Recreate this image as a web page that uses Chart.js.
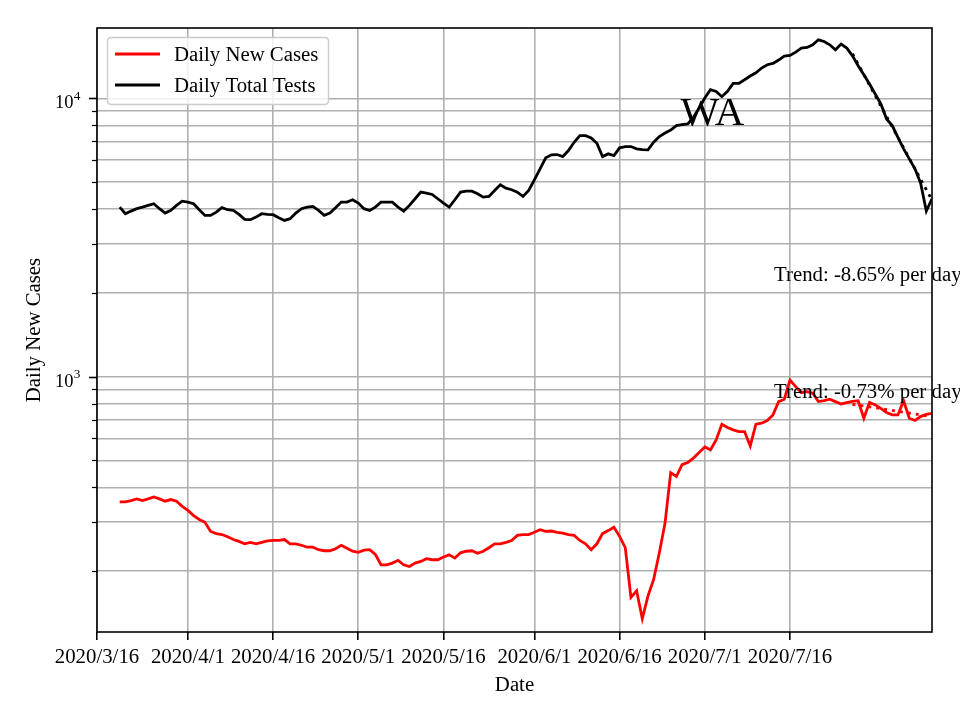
<!DOCTYPE html>
<html>
<head>
<meta charset="utf-8">
<style>
  html, body { margin: 0; padding: 0; background: #ffffff; }
  #wrap { width: 960px; height: 720px; }
</style>
<script src="https://cdn.jsdelivr.net/npm/chart.js@4.4.1/dist/chart.umd.min.js"></script>
</head>
<body>
<div id="wrap"><canvas id="c" width="960" height="720"></canvas></div>
<script>
// ---------------- data ----------------
const axisStartDate = '2020/3/16';
const axisEndDate = '2020/8/10';
const seriesStartDate = '2020/3/20';

const dailyNewCases = [
  355, 355, 359, 364, 359, 364, 370, 364, 357, 362, 357, 342, 331, 317, 307, 300,
  278, 273, 271, 266, 260, 256, 251, 254, 251, 254, 257, 258, 258, 260, 251, 251,
  248, 244, 244, 239, 237, 237, 241, 248, 242, 236, 234, 238, 239, 230, 211, 211,
  214, 219, 211, 208, 214, 217, 222, 220, 220, 225, 229, 223, 233, 236, 237, 232,
  236, 243, 251, 251, 254, 258, 269, 271, 271, 276, 282, 278, 279, 276, 274, 271,
  269, 258, 251, 239, 251, 273, 280, 288, 267, 243, 161, 170, 135, 163, 187, 233,
  298, 452, 438, 483, 492, 510, 534, 559, 546, 593, 675, 657, 644, 635, 635, 564,
  675, 681, 696, 729, 814, 830, 973, 921, 876, 884, 872, 814, 820, 830, 814, 798,
  807, 816, 820, 709, 809, 792, 770, 743, 729, 729, 820, 709, 696, 719, 733, 739
];

const dailyTotalTests = [
  4068, 3852, 3936, 4015, 4068, 4125, 4183, 4015, 3871, 3959, 4125, 4274, 4239, 4183, 3981, 3798,
  3798, 3903, 4048, 3981, 3959, 3830, 3674, 3666, 3745, 3852, 3830, 3820, 3726, 3644, 3696, 3871,
  4015, 4068, 4091, 3959, 3798, 3871, 4048, 4239, 4239, 4323, 4204, 4015, 3959, 4068, 4239, 4239,
  4239, 4068, 3936, 4125, 4359, 4604, 4566, 4516, 4359, 4204, 4068, 4323, 4604, 4642, 4642, 4543,
  4418, 4443, 4669, 4893, 4758, 4695, 4604, 4443, 4669, 5099, 5585, 6114, 6267, 6283, 6180, 6494,
  6955, 7350, 7350, 7213, 6898, 6180, 6319, 6231, 6641, 6713, 6713, 6586, 6548, 6534, 6955, 7290,
  7504, 7691, 7983, 8048, 8094, 8548, 9239, 10030, 10745, 10596, 10141, 10596, 11320, 11320, 11668, 12031,
  12363, 12853, 13207, 13348, 13728, 14191, 14260, 14666, 15157, 15234, 15577, 16233, 16007, 15577, 14949, 15668,
  15157, 14223, 13098, 12159, 11262, 10370, 9548, 8436, 7983, 7248, 6586, 6064, 5585, 4958, 3936, 4359
];

// trend lines (two-week fits), endpoints
const trendDates = ['2020/7/27', '2020/8/10'];
const casesTrend = [796, 719];
const testsTrend = [14470, 4310];
const casesTrendLabel = 'Trend: -0.73% per day';
const testsTrendLabel = 'Trend: -8.65% per day';

const xTickLabels = ['2020/3/16', '2020/4/1', '2020/4/16', '2020/5/1', '2020/5/16',
                     '2020/6/1', '2020/6/16', '2020/7/1', '2020/7/16'];
const yGridValues = [200, 300, 400, 500, 600, 700, 800, 900,
                     1000, 2000, 3000, 4000, 5000, 6000, 7000, 8000, 9000, 10000];
const yMajorValues = [1000, 10000];
const yRange = [121, 17900];

const stateName = 'WA';
const seriesNames = ['Daily New Cases', 'Daily Total Tests'];
const xTitle = 'Date';
const yTitle = 'Daily New Cases';

// ---------------- helpers ----------------
function dayOf(s) {
  const p = s.split('/').map(Number);
  const a = Date.UTC(2020, 2, 16);
  return Math.round((Date.UTC(p[0], p[1] - 1, p[2]) - a) / 86400000);
}
const d0 = dayOf(seriesStartDate);
const toPts = arr => arr.map((v, i) => ({ x: d0 + i, y: v }));
const trendPts = arr => arr.map((v, i) => ({ x: dayOf(trendDates[i]), y: v }));
const xTickDays = xTickLabels.map(dayOf);

const FONT = '"Liberation Serif", "Times New Roman", Times, serif';
const FS = 20.8;
const GRID = '#b0b0b0';
const LW = 2.8;

// ---------------- custom drawing ----------------
const decor = {
  id: 'decor',
  afterDraw(chart) {
    const ctx = chart.ctx;
    const ca = chart.chartArea;
    const ys = chart.scales.y;
    ctx.save();

    // y tick marks (major + minor)
    ctx.strokeStyle = '#000';
    yGridValues.forEach(v => {
      const p = Math.round(ys.getPixelForValue(v)) + 0.5;
      const major = yMajorValues.includes(v);
      ctx.lineWidth = major ? 1.6 : 1.2;
      ctx.beginPath();
      ctx.moveTo(ca.left, p);
      ctx.lineTo(ca.left - (major ? 8 : 5), p);
      ctx.stroke();
    });

    // y tick labels 10^n
    ctx.fillStyle = '#000';
    yMajorValues.forEach(v => {
      const p = ys.getPixelForValue(v);
      const exp = String(Math.round(Math.log10(v)));
      ctx.font = '18.5px ' + FONT;
      ctx.textAlign = 'right';
      ctx.textBaseline = 'alphabetic';
      ctx.fillText('10', 73.5, p + 9.8);
      ctx.font = '13.3px ' + FONT;
      ctx.textAlign = 'left';
      ctx.fillText(exp, 73.8, p + 1.5);
    });

    // axes frame
    ctx.strokeStyle = '#000';
    ctx.lineWidth = 1.6;
    ctx.strokeRect(ca.left, ca.top, ca.right - ca.left, ca.bottom - ca.top);

    // axis titles
    ctx.font = FS + 'px ' + FONT;
    ctx.textAlign = 'center';
    ctx.textBaseline = 'alphabetic';
    ctx.fillText(xTitle, (ca.left + ca.right) / 2, 691);
    ctx.save();
    ctx.translate(40, (ca.top + ca.bottom) / 2);
    ctx.rotate(-Math.PI / 2);
    ctx.fillText(yTitle, 0, 0);
    ctx.restore();

    // state label
    ctx.font = '41px ' + FONT;
    ctx.textAlign = 'center';
    ctx.fillText(stateName, 712.5, 124.5);

    // trend labels
    ctx.font = FS + 'px ' + FONT;
    ctx.textAlign = 'left';
    ctx.fillText(testsTrendLabel, 774, 281);
    ctx.fillText(casesTrendLabel, 774, 398);

    // legend
    const bx = 107.5, by = 37.5, bw = 221, bh = 67, r = 4;
    ctx.beginPath();
    ctx.moveTo(bx + r, by);
    ctx.lineTo(bx + bw - r, by);
    ctx.quadraticCurveTo(bx + bw, by, bx + bw, by + r);
    ctx.lineTo(bx + bw, by + bh - r);
    ctx.quadraticCurveTo(bx + bw, by + bh, bx + bw - r, by + bh);
    ctx.lineTo(bx + r, by + bh);
    ctx.quadraticCurveTo(bx, by + bh, bx, by + bh - r);
    ctx.lineTo(bx, by + r);
    ctx.quadraticCurveTo(bx, by, bx + r, by);
    ctx.closePath();
    ctx.fillStyle = 'rgba(255,255,255,0.8)';
    ctx.fill();
    ctx.strokeStyle = '#cccccc';
    ctx.lineWidth = 1.4;
    ctx.stroke();

    const colors = ['#ff0000', '#000000'];
    const rows = [54, 85];
    rows.forEach((yy, i) => {
      ctx.strokeStyle = colors[i];
      ctx.lineWidth = LW;
      ctx.beginPath();
      ctx.moveTo(115, yy);
      ctx.lineTo(160, yy);
      ctx.stroke();
      ctx.fillStyle = '#000';
      ctx.font = FS + 'px ' + FONT;
      ctx.textAlign = 'left';
      ctx.fillText(seriesNames[i], 174, yy + 7.2);
    });

    ctx.restore();
  }
};

// ---------------- chart ----------------
new Chart(document.getElementById('c'), {
  type: 'line',
  data: {
    datasets: [
      { label: seriesNames[0], data: toPts(dailyNewCases), borderColor: '#ff0000',
        borderWidth: LW, pointRadius: 0, tension: 0, order: 2 },
      { label: seriesNames[1], data: toPts(dailyTotalTests), borderColor: '#000000',
        borderWidth: LW, pointRadius: 0, tension: 0, order: 1 },
      { label: 'cases trend', data: trendPts(casesTrend), borderColor: '#ff0000',
        borderWidth: LW, borderDash: [3, 5], pointRadius: 0, order: 0 },
      { label: 'tests trend', data: trendPts(testsTrend), borderColor: '#000000',
        borderWidth: LW, borderDash: [3, 5], pointRadius: 0, order: 0 }
    ]
  },
  options: {
    responsive: false,
    devicePixelRatio: 1,
    animation: false,
    events: [],
    layout: { padding: { left: 0, top: 28, right: 28, bottom: 0 } },
    plugins: { legend: { display: false }, tooltip: { enabled: false } },
    scales: {
      x: {
        type: 'linear',
        bounds: 'data',
        min: dayOf(axisStartDate),
        max: dayOf(axisEndDate),
        afterBuildTicks: s => { s.ticks = xTickDays.map(v => ({ value: v })); },
        afterFit: s => { s.height = 88; },
        border: { display: false },
        grid: { color: GRID, lineWidth: 1.6, drawTicks: true, tickLength: 8,
                tickColor: '#000', tickWidth: 1.6 },
        ticks: {
          autoSkip: false, maxRotation: 0, padding: 5, color: '#000',
          font: { family: FONT, size: FS },
          callback: v => xTickLabels[xTickDays.indexOf(v)]
        }
      },
      y: {
        type: 'logarithmic',
        min: yRange[0],
        max: yRange[1],
        afterBuildTicks: s => { s.ticks = yGridValues.map(v => ({ value: v })); },
        afterFit: s => { s.width = 97; },
        border: { display: false },
        grid: { color: GRID, lineWidth: 1.6, drawTicks: false },
        ticks: { display: false }
      }
    }
  },
  plugins: [decor]
});
</script>
</body>
</html>
